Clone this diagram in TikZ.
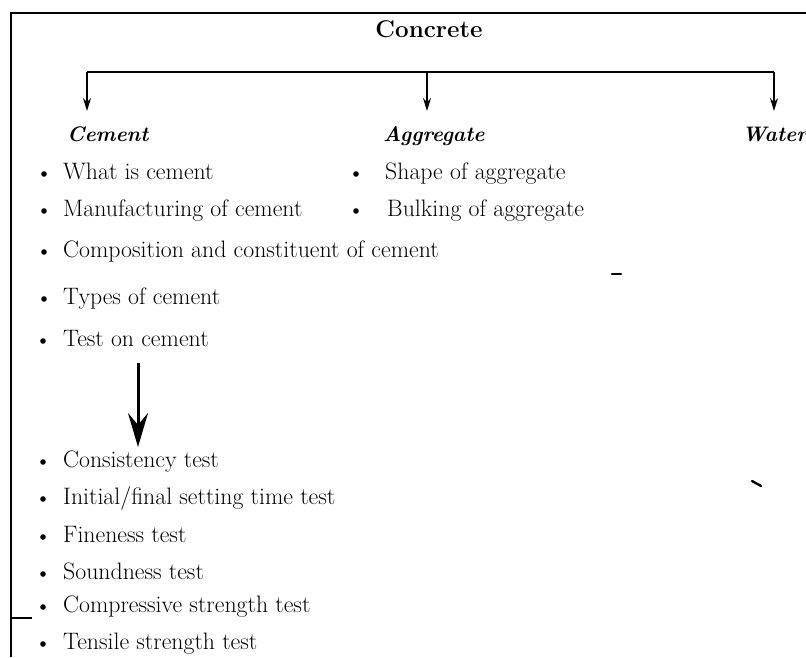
\documentclass[tikz,border=0pt]{standalone}
\usetikzlibrary{arrows.meta}
\begin{document}
\begin{tikzpicture}[x=1pt,y=-1pt,
  item/.style={anchor=west, inner sep=0pt, font=\fontsize{23.8}{26}\selectfont,
               text height=0.69em, text depth=0.2em},
  head/.style={anchor=west, inner sep=0pt, font=\fontsize{21}{24}\selectfont\bfseries\itshape,
               text height=0.69em, text depth=0.2em},
  title/.style={inner sep=0pt, font=\fontsize{24.2}{27}\selectfont\bfseries},
  dot/.style={circle, fill, inner sep=0pt, minimum size=5.6pt},
  frame/.style={line width=1.6pt},
  link/.style={line width=1.4pt},
  tip/.style={-{Stealth[length=13pt,width=8pt]}},
  bigtip/.style={line width=3pt, -{Stealth[length=34pt,width=20pt,inset=12pt]}},
  smudge/.style={line width=2.4pt, line cap=round}
]
\useasboundingbox (0,0) rectangle (806,657);
\clip (0,0) rectangle (806,657);

% outer frame (top and left edges)
\draw[frame] (11,657) -- (11,13) -- (806,13);

% title and distribution bar
\node[title] (concrete) at (429,29) {Concrete};
\coordinate (barL) at (87,72);
\coordinate (barM) at (427,72);
\coordinate (barR) at (774,72);
\draw[link] (barL) -- (barR);

% headings
\node[head] (cement) at (67,139) {Cement};
\node[head] (aggregate) at (383,139) {Aggregate};
\node[head] (water) at (742,139) {Water};

\coordinate (tipL) at (87,111);
\coordinate (tipM) at (427,111);
\coordinate (tipR) at (774,111);
\draw[link,tip] (barL) -- (tipL);
\draw[link,tip] (barM) -- (tipM);
\draw[link,tip] (barR) -- (tipR);

% cement topics
\node[dot] (b1) at (44,174) {};
\node[item] (c1) at (63,177) {What is cement};
\node[dot] (b2) at (44,211) {};
\node[item] (c2) at (63,214) {Manufacturing of cement};
\node[dot] (b3) at (44,252) {};
\node[item] (c3) at (63,255) {Composition and constituent of cement};
\node[dot] (b4) at (44,299) {};
\node[item] (c4) at (63,302) {Types of cement};
\node[dot] (b5) at (43,341) {};
\node[item] (c5) at (63,344) {Test on cement};

% aggregate topics
\node[dot] (a1b) at (356,174) {};
\node[item] (a1) at (385,177) {Shape of aggregate};
\node[dot] (a2b) at (356,211) {};
\node[item] (a2) at (387,214) {Bulking of aggregate};

% tests on cement
\coordinate (testTop) at (138,363);
\coordinate (testEnd) at (138,447);
\draw[bigtip] (testTop) -- (testEnd);

\node[dot] (t1b) at (43,462) {};
\node[item] (t1) at (63,465) {Consistency test};
\node[dot] (t2b) at (43,499) {};
\node[item] (t2) at (63,502) {Initial/final setting time test};
\node[dot] (t3b) at (43,537) {};
\node[item] (t3) at (63,540) {Fineness test};
\node[dot] (t4b) at (43,574) {};
\node[item] (t4) at (63,577) {Soundness test};
\node[dot] (t5b) at (43,607) {};
\node[item] (t5) at (63,610) {Compressive strength test};
\node[dot] (t6b) at (43,644) {};
\node[item] (t6) at (63,647) {Tensile strength test};

% stray printing marks
\draw[line width=2pt] (11,618) -- (32,618);
\draw[smudge] (612,274) -- (621,274);
\draw[smudge] (752,481) -- (761,486);
\end{tikzpicture}
\end{document}
